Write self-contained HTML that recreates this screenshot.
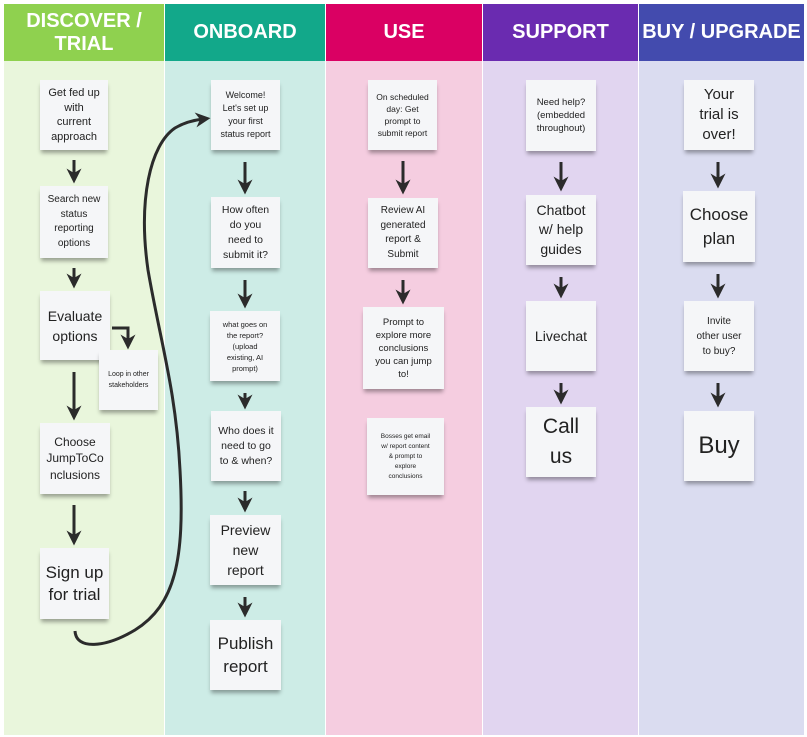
<!DOCTYPE html>
<html><head><meta charset="utf-8"><style>
body{margin:0;width:807px;height:737px;background:#fff;position:relative;overflow:hidden;font-family:"Liberation Sans",sans-serif}
.h{position:absolute;top:4px;height:57px;color:#fff;font-weight:bold;font-size:20px;display:flex;align-items:center;justify-content:center;text-align:center;line-height:23px;border-right:1px solid #fff;box-sizing:border-box}
.b{position:absolute;top:61px;height:674px;border-right:1px solid #fff;box-sizing:border-box}
.n{position:absolute;background:#f5f6f8;box-shadow:0 4px 4px -1px rgba(0,0,0,.35);display:flex;align-items:center;justify-content:center;text-align:center;color:#222;box-sizing:border-box;padding:2px;white-space:nowrap}
svg{position:absolute;left:0;top:0}
</style></head><body>
<div class="h" style="left:4px;width:161px;background:#8fd14f">DISCOVER /<br>TRIAL</div>
<div class="h" style="left:165px;width:161px;background:#12a88a">ONBOARD</div>
<div class="h" style="left:326px;width:157px;background:#da0063">USE</div>
<div class="h" style="left:483px;width:156px;background:#6a2bb0">SUPPORT</div>
<div class="h" style="left:639px;width:166px;background:#434bae">BUY / UPGRADE</div>
<div class="b" style="left:4px;width:161px;background:#e9f6dc"></div>
<div class="b" style="left:165px;width:161px;background:#cdece6"></div>
<div class="b" style="left:326px;width:157px;background:#f5cde0"></div>
<div class="b" style="left:483px;width:156px;background:#e1d5f0"></div>
<div class="b" style="left:639px;width:166px;background:#dadcf0"></div>

<div class="n" style="left:40px;top:80px;width:68px;height:70px;font-size:11px;line-height:14.5px">Get fed up<br>with<br>current<br>approach</div>
<div class="n" style="left:40px;top:186px;width:68px;height:72px;font-size:10px;line-height:14.5px">Search new<br>status<br>reporting<br>options</div>
<div class="n" style="left:40px;top:291px;width:70px;height:69px;font-size:14px;line-height:20px">Evaluate<br>options</div>
<div class="n" style="left:99px;top:350px;width:59px;height:60px;font-size:7px;line-height:11px">Loop in other<br>stakeholders</div>
<div class="n" style="left:40px;top:423px;width:70px;height:71px;font-size:12px;line-height:16.5px">Choose<br>JumpToCo<br>nclusions</div>
<div class="n" style="left:40px;top:548px;width:69px;height:71px;font-size:17px;line-height:22px">Sign up<br>for trial</div>

<div class="n" style="left:211px;top:80px;width:69px;height:70px;font-size:9px;line-height:13px">Welcome!<br>Let's set up<br>your first<br>status report</div>
<div class="n" style="left:211px;top:197px;width:69px;height:71px;font-size:10.5px;line-height:15px">How often<br>do you<br>need to<br>submit it?</div>
<div class="n" style="left:210px;top:311px;width:70px;height:70px;font-size:7.5px;line-height:11px">what goes on<br>the report?<br>(upload<br>existing, AI<br>prompt)</div>
<div class="n" style="left:211px;top:411px;width:70px;height:70px;font-size:10.5px;line-height:15px">Who does it<br>need to go<br>to &amp; when?</div>
<div class="n" style="left:210px;top:515px;width:71px;height:70px;font-size:14px;line-height:20px">Preview<br>new<br>report</div>
<div class="n" style="left:210px;top:620px;width:71px;height:70px;font-size:17px;line-height:23px">Publish<br>report</div>

<div class="n" style="left:368px;top:80px;width:69px;height:70px;font-size:8.5px;line-height:12px">On scheduled<br>day: Get<br>prompt to<br>submit report</div>
<div class="n" style="left:368px;top:198px;width:70px;height:70px;font-size:10px;line-height:14.5px">Review AI<br>generated<br>report &amp;<br>Submit</div>
<div class="n" style="left:363px;top:307px;width:81px;height:82px;font-size:9.5px;line-height:13px">Prompt to<br>explore more<br>conclusions<br>you can jump<br>to!</div>
<div class="n" style="left:367px;top:418px;width:77px;height:77px;font-size:6.5px;line-height:10px">Bosses get email<br>w/ report content<br>&amp; prompt to<br>explore<br>conclusions</div>

<div class="n" style="left:526px;top:80px;width:70px;height:71px;font-size:9.5px;line-height:13px">Need help?<br>(embedded<br>throughout)</div>
<div class="n" style="left:526px;top:195px;width:70px;height:70px;font-size:14px;line-height:19.5px">Chatbot<br>w/ help<br>guides</div>
<div class="n" style="left:526px;top:301px;width:70px;height:70px;font-size:14px">Livechat</div>
<div class="n" style="left:526px;top:407px;width:70px;height:70px;font-size:21px;line-height:30px">Call<br>us</div>

<div class="n" style="left:684px;top:80px;width:70px;height:70px;font-size:15px;line-height:20px">Your<br>trial is<br>over!</div>
<div class="n" style="left:683px;top:191px;width:72px;height:71px;font-size:17px;line-height:24px">Choose<br>plan</div>
<div class="n" style="left:684px;top:301px;width:70px;height:70px;font-size:10px;line-height:15px">Invite<br>other user<br>to buy?</div>
<div class="n" style="left:684px;top:411px;width:70px;height:70px;font-size:24px">Buy</div>

<svg width="807" height="737">
<defs><marker id="a" markerWidth="5" markerHeight="5" refX="2.5" refY="2.5" orient="auto" markerUnits="strokeWidth"><path d="M0,0 L5,2.5 L0,5 L1.5,2.5 Z" fill="#2b2b2b"/></marker></defs>
<g stroke="#2b2b2b" stroke-width="3" fill="none" marker-end="url(#a)">
<line x1="74" y1="160" x2="74" y2="176"/>
<line x1="74" y1="268" x2="74" y2="281"/>
<line x1="74" y1="372" x2="74" y2="413"/>
<line x1="74" y1="505" x2="74" y2="538"/>
<path d="M112,328 L128,328 L128,342"/>
<line x1="245" y1="162" x2="245" y2="187"/>
<line x1="245" y1="280" x2="245" y2="301"/>
<line x1="245" y1="393" x2="245" y2="402"/>
<line x1="245" y1="491" x2="245" y2="505"/>
<line x1="245" y1="597" x2="245" y2="610"/>
<line x1="403" y1="161" x2="403" y2="187"/>
<line x1="403" y1="280" x2="403" y2="297"/>
<line x1="561" y1="162" x2="561" y2="184"/>
<line x1="561" y1="277" x2="561" y2="291"/>
<line x1="561" y1="383" x2="561" y2="397"/>
<line x1="718" y1="162" x2="718" y2="181"/>
<line x1="718" y1="274" x2="718" y2="291"/>
<line x1="718" y1="383" x2="718" y2="400"/>
<path d="M75,631 C76,650 105,648 135,630 C175,605 185,560 180,470 C176,390 160,340 148,270 C138,200 150,145 175,128 C185,122 195,120 203,119"/>
</g>
</svg>
</body></html>
